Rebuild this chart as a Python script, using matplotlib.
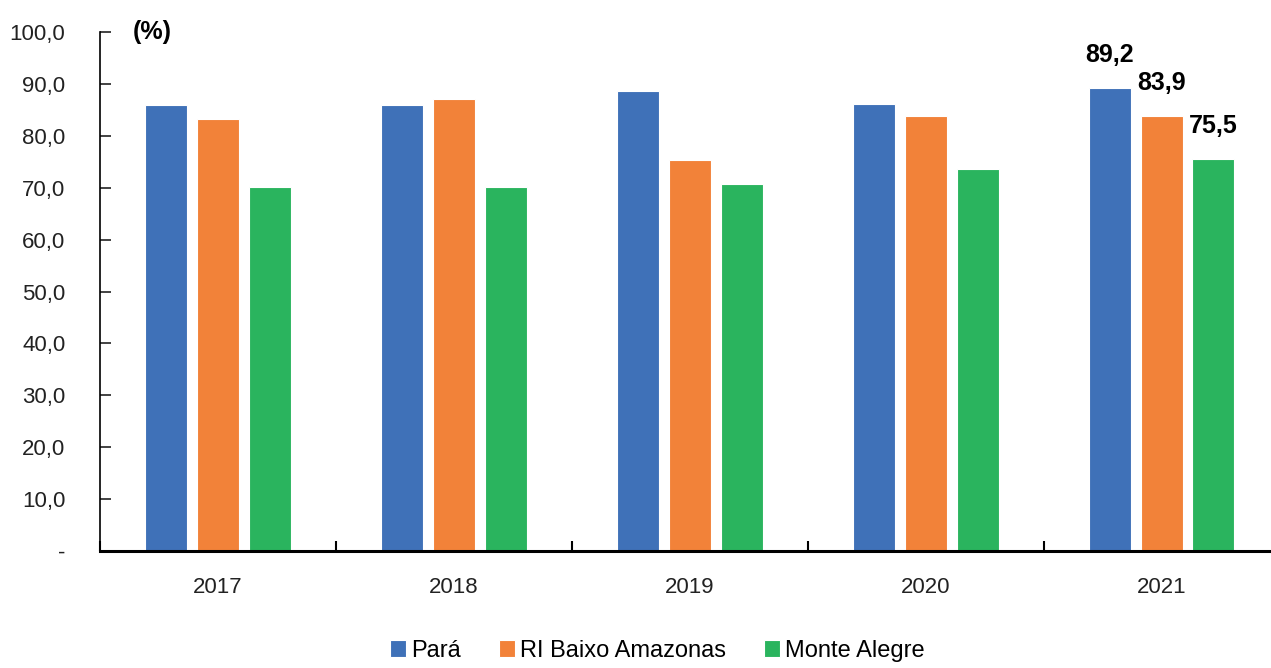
import numpy as np
import matplotlib.pyplot as plt
from matplotlib.ticker import FixedLocator, FuncFormatter

years = ['2017', '2018', '2019', '2020', '2021']
series_names = ['Pará', 'RI Baixo Amazonas', 'Monte Alegre']
para = [85.9, 85.9, 88.6, 86.1, 89.2]
ri_baixo = [83.2, 87.2, 75.3, 83.8, 83.9]
monte_alegre = [70.2, 70.2, 70.8, 73.6, 75.5]
colors = ['#3F71B8', '#F28239', '#2AB45E']

plt.rcParams['font.family'] = ['Liberation Sans', 'DejaVu Sans']

fig = plt.figure(figsize=(12.71, 6.68), dpi=100)
ax = fig.add_axes([0.0787, 0.175, 0.928, 0.777])

x = np.arange(len(years))
step = 0.22
width = 0.178
all_series = [para, ri_baixo, monte_alegre]
for i, (vals, name, c) in enumerate(zip(all_series, series_names, colors)):
    ax.bar(x + (i - 1) * step, vals, width, color=c, edgecolor='white',
           linewidth=0.8, label=name)

# labels only for the last year
for i, vals in enumerate(all_series):
    ax.annotate(f'{vals[-1]:.1f}'.replace('.', ','),
                xy=(x[-1] + (i - 1) * step, vals[-1]),
                xytext=(0, 15), textcoords='offset points',
                ha='center', va='bottom', fontsize=18, fontweight='bold')

ax.set_xlim(-0.5, 4.5)
ax.set_ylim(0, 100)

ax.set_yticks(np.arange(0, 101, 10))
ax.yaxis.set_major_formatter(FuncFormatter(
    lambda v, p: '-' if v == 0 else f'{v:.1f}'.replace('.', ',')))
ax.tick_params(axis='y', direction='in', length=8, width=1.2, pad=25,
               labelsize=16, colors='#222222')

ax.set_xticks(x)
ax.set_xticklabels(years)
ax.tick_params(axis='x', which='major', length=0, pad=19, labelsize=16,
               colors='#222222')
ax.xaxis.set_minor_locator(FixedLocator(np.arange(-0.5, 4.6, 1.0)))
ax.tick_params(axis='x', which='minor', direction='in', length=7, width=1.5)

for s in ['top', 'right']:
    ax.spines[s].set_visible(False)
ax.spines['left'].set_linewidth(1.2)
ax.spines['bottom'].set_linewidth(2.2)

ax.text(-0.28, 100, '(%)', fontsize=18, fontweight='bold', ha='center',
        va='center')

fig.legend(loc='center', bbox_to_anchor=(0.517, 0.026), ncol=3, frameon=False,
           fontsize=17, handlelength=0.7, handleheight=0.7, handletextpad=0.2,
           columnspacing=1.6)

fig.savefig('out.png', dpi=100)
